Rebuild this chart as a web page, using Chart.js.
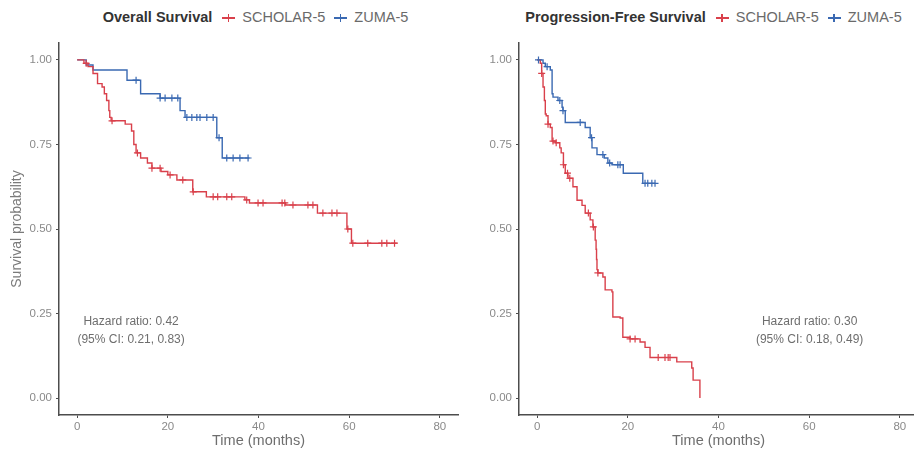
<!DOCTYPE html>
<html>
<head>
<meta charset="utf-8">
<script src="https://cdn.jsdelivr.net/npm/chart.js@4.4.1/dist/chart.umd.min.js"></script>
<style>
  html, body { margin: 0; padding: 0; background: #fff; overflow: hidden; width: 914px; height: 453px; }
  canvas { position: absolute; top: 0; }
  .legend { position: absolute; top: 7px; text-align: center; white-space: nowrap;
            font-family: "Liberation Sans", Arial, sans-serif; font-size: 14.5px; color: #6a6a6a; line-height: 20px; }
  .legend b { color: #333; margin-right: 9px; }
  .key { display: inline-block; position: relative; width: 13px; height: 10px; margin: 0 7px 0 1px; vertical-align: -1px; }
  .key::before { content: ""; position: absolute; left: 0; right: 0; top: 4px; height: 1.5px; background: var(--c); }
  .key::after { content: ""; position: absolute; left: 5.5px; width: 1.5px; top: 1px; height: 8px; background: var(--c); }
</style>
</head>
<body>
<div class="legend" id="legOS" style="left:56px;width:399px"></div>
<div class="legend" id="legPFS" style="left:509px;width:409px"></div>
<canvas id="osChart" width="460" height="453" style="left:0"></canvas>
<canvas id="pfsChart" width="460" height="453" style="left:460px"></canvas>
<script>
"use strict";

const timeTicks = [0, 20, 40, 60, 80];
const probTicks = [0, 0.25, 0.5, 0.75, 1];
const seriesNames = ['SCHOLAR-5', 'ZUMA-5'];

// Overall survival - SCHOLAR-5
const osScholarTime = [0, 1.5, 2.4, 3.5, 4.5, 5.5, 6.0, 6.5, 7.0, 7.2, 7.5, 10.6, 12.0, 12.5, 13.0, 14.0, 15.5, 16.5, 18.5, 20.0, 22.0, 25.5, 28.5, 37.0, 38.0, 46.0, 53.0, 59.5, 60.5, 70.5];
const osScholarSurv = [1, 0.99, 0.98, 0.96, 0.93, 0.92, 0.90, 0.88, 0.85, 0.83, 0.82, 0.81, 0.79, 0.75, 0.725, 0.71, 0.695, 0.68, 0.67, 0.66, 0.645, 0.61, 0.595, 0.586, 0.577, 0.571, 0.547, 0.50, 0.458, 0.458];
const osScholarCensor = [2, 7.7, 13.3, 16.5, 18.3, 20.5, 23.3, 25.6, 30, 31, 33, 34.1, 37.4, 39.9, 41, 45.2, 45.8, 47.6, 50.9, 52, 54.2, 56.2, 57.3, 59.7, 60.8, 64.1, 67.2, 68.3, 70];

// Overall survival - ZUMA-5
const osZumaTime = [0, 2.0, 3.5, 11.0, 14.0, 18.3, 22.7, 23.8, 30.8, 32.0, 38.0];
const osZumaSurv = [1, 0.985, 0.97, 0.94, 0.90, 0.887, 0.85, 0.83, 0.77, 0.71, 0.71];
const osZumaCensor = [13, 18.3, 19.4, 20.9, 22.2, 24.2, 25.3, 26.4, 27.1, 28.6, 30, 31.3, 33, 34.4, 35.9, 37.7];

// Progression-free survival - SCHOLAR-5
const pfsScholarTime = [0, 0.7, 1.0, 1.3, 1.6, 1.8, 2.0, 2.4, 2.9, 3.3, 4.0, 5.0, 5.3, 5.8, 6.2, 6.8, 7.9, 8.8, 9.9, 10.6, 11.7, 12.3, 12.8, 13.0, 13.1, 13.2, 13.4, 14.5, 15.0, 16.5, 16.7, 18.3, 18.9, 20.5, 22.7, 23.8, 24.9, 30.8, 34.1, 34.4, 35.9];
const pfsScholarSurv = [1, 0.99, 0.96, 0.92, 0.88, 0.84, 0.835, 0.81, 0.80, 0.76, 0.755, 0.74, 0.725, 0.69, 0.665, 0.65, 0.625, 0.585, 0.57, 0.547, 0.527, 0.506, 0.467, 0.44, 0.41, 0.38, 0.37, 0.358, 0.32, 0.314, 0.24, 0.237, 0.18, 0.175, 0.166, 0.15, 0.12, 0.107, 0.089, 0.053, 0];
const pfsScholarCensor = [1, 2.4, 3.5, 4.2, 5.8, 6.7, 7.2, 11.3, 12.4, 13.4, 20.5, 21.6, 26.7, 28.2, 28.9, 29.3];

// Progression-free survival - ZUMA-5
const pfsZumaTime = [0, 1.3, 1.8, 2.9, 3.3, 3.5, 4.6, 5.5, 5.7, 6.2, 10.6, 11.7, 12.1, 13.2, 14.8, 15.6, 16.5, 19.0, 23.3, 26.0];
const pfsZumaSurv = [1, 0.99, 0.98, 0.97, 0.90, 0.89, 0.88, 0.86, 0.85, 0.815, 0.80, 0.77, 0.74, 0.72, 0.71, 0.695, 0.69, 0.665, 0.635, 0.635];
const pfsZumaCensor = [0.3, 2.2, 5, 5.7, 9.5, 12, 14.5, 16, 17.8, 18.3, 23.8, 24.4, 25.3, 26];

const osHazard = ['Hazard ratio: 0.42', '(95% CI: 0.21, 0.83)'];
const pfsHazard = ['Hazard ratio: 0.30', '(95% CI: 0.18, 0.49)'];

const RED = '#d9404b';
const BLUE = '#3a69b2';
const FONT = '"Liberation Sans", Arial, sans-serif';

function curve(times, surv) {
    return times.map((t, i) => ({ x: t, y: surv[i] }));
}

// censor marks sit on the step curve
function marks(times, surv, censor) {
    return censor.map(c => {
        let s = surv[0];
        times.forEach((t, i) => { if (t <= c) s = surv[i]; });
        return { x: c, y: s };
    });
}

const hazardText = {
    id: 'hazardText',
    afterDatasetsDraw(chart, args, opts) {
        const { ctx, scales: { x, y } } = chart;
        ctx.save();
        ctx.font = '12px ' + FONT;
        ctx.fillStyle = '#6e6e6e';
        ctx.textAlign = 'center';
        ctx.textBaseline = 'middle';
        opts.lines.forEach((l, i) => {
            ctx.fillText(l, x.getPixelForValue(opts.at[0]), y.getPixelForValue(opts.at[1]) + i * 18);
        });
        ctx.restore();
    }
};

function buildLegend(id, title) {
    const el = document.getElementById(id);
    let html = '<b>' + title + '</b>';
    [RED, BLUE].forEach((c, i) => {
        html += '<span class="key" style="--c:' + c + '"></span>' + seriesNames[i] + (i === 0 ? '<span style="display:inline-block;width:8px"></span>' : '');
    });
    el.innerHTML = html;
}

function makePanel(canvasId, d, hazard, hazardAt, yTitle) {
    const ctx = document.getElementById(canvasId).getContext('2d');
    const lineDs = (label, data, color) => ({
        label: label, data: data, borderColor: color, backgroundColor: color,
        borderWidth: 1.4, stepped: true, fill: false, pointRadius: 0, order: 2
    });
    const markDs = (data, color) => ({
        label: '', data: data, showLine: false, pointStyle: 'cross',
        pointRadius: 3.5, pointBorderWidth: 1.2, pointBorderColor: color, borderColor: color, order: 1
    });
    return new Chart(ctx, {
        type: 'line',
        data: {
            datasets: [
                lineDs(seriesNames[0], curve(d.t1, d.s1), RED),
                lineDs(seriesNames[1], curve(d.t2, d.s2), BLUE),
                markDs(marks(d.t1, d.s1, d.c1), RED),
                markDs(marks(d.t2, d.s2, d.c2), BLUE)
            ]
        },
        options: {
            responsive: false,
            animation: false,
            events: [],
            layout: { autoPadding: false, padding: { top: 43, right: 2, left: 0, bottom: 0 } },
            plugins: {
                legend: { display: false },
                tooltip: { enabled: false },
                hazardText: { lines: hazard, at: hazardAt }
            },
            scales: {
                x: {
                    type: 'linear', min: -4, max: 84,
                    afterBuildTicks: s => { s.ticks = timeTicks.map(v => ({ value: v })); },
                    afterFit: s => { s.height = 38; s.paddingLeft = 0; s.paddingRight = 0; },
                    border: { color: '#4d4d4d', width: 1.5 },
                    grid: { drawOnChartArea: false, drawTicks: true, tickLength: 3, color: '#4d4d4d' },
                    ticks: { color: '#8a8a8a', font: { family: FONT, size: 11.5 }, padding: 2, maxRotation: 0 },
                    title: { display: true, text: 'Time (months)', color: '#6e6e6e', font: { family: FONT, size: 14.5 }, padding: { top: 0, bottom: 3 } }
                },
                y: {
                    type: 'linear', min: -0.05, max: 1.05,
                    afterBuildTicks: s => { s.ticks = probTicks.map(v => ({ value: v })); },
                    afterFit: s => { s.width = 59; s.paddingTop = 0; s.paddingBottom = 0; },
                    border: { color: '#4d4d4d', width: 1.5 },
                    grid: { drawOnChartArea: false, drawTicks: true, tickLength: 3, color: '#4d4d4d' },
                    ticks: { color: '#8a8a8a', font: { family: FONT, size: 11.5 }, padding: 4, callback: v => Number(v).toFixed(2) },
                    title: { display: yTitle, text: 'Survival probability', color: '#7a7a7a', font: { family: FONT, size: 14 }, padding: { top: 9, bottom: 0 } }
                }
            }
        },
        plugins: [hazardText]
    });
}

buildLegend('legOS', 'Overall Survival');
buildLegend('legPFS', 'Progression-Free Survival');

makePanel('osChart', {
    t1: osScholarTime, s1: osScholarSurv, c1: osScholarCensor,
    t2: osZumaTime, s2: osZumaSurv, c2: osZumaCensor
}, osHazard, [11.9, 0.225], true);

makePanel('pfsChart', {
    t1: pfsScholarTime, s1: pfsScholarSurv, c1: pfsScholarCensor,
    t2: pfsZumaTime, s2: pfsZumaSurv, c2: pfsZumaCensor
}, pfsHazard, [60.1, 0.225], false);
</script>
</body>
</html>
